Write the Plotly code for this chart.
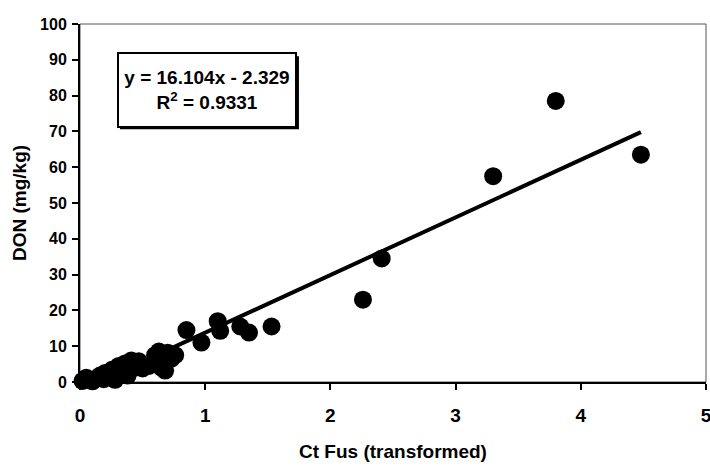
import plotly.graph_objects as go

# Ct Fus (transformed) vs DON content
ct_fus = [0.02, 0.05, 0.08, 0.10, 0.13, 0.16, 0.19, 0.20, 0.24, 0.26,
          0.28, 0.30, 0.31, 0.34, 0.36, 0.38, 0.41, 0.44, 0.47, 0.50,
          0.55, 0.60, 0.63, 0.65, 0.68, 0.70, 0.73, 0.76,
          0.85, 0.97, 1.10, 1.12, 1.28, 1.35, 1.53,
          2.26, 2.41, 3.30, 3.80, 4.48]
don = [0.3, 1.2, 0.5, 0.2, 1.0, 1.8, 0.8, 2.5, 1.5, 3.5,
       0.6, 2.2, 4.5, 3.0, 5.2, 1.8, 6.0, 4.0, 5.8, 3.8,
       4.5, 7.5, 8.5, 4.0, 3.2, 8.2, 6.5, 7.5,
       14.5, 11.0, 17.0, 14.3, 15.5, 13.8, 15.5,
       23.0, 34.5, 57.5, 78.5, 63.5]

# Linear trendline coefficients
slope = 16.104
intercept = -2.329
r_squared = 0.9331

x_ticks = [0, 1, 2, 3, 4, 5]
y_ticks = [0, 10, 20, 30, 40, 50, 60, 70, 80, 90, 100]

fit_x = [min(ct_fus), max(ct_fus)]
fit_y = [slope * v + intercept for v in fit_x]

FONT = "Liberation Sans, Arial, sans-serif"

fig = go.Figure()
fig.add_trace(go.Scatter(
    x=ct_fus, y=don, mode="markers",
    marker=dict(color="black", size=18, line=dict(width=0)),
    cliponaxis=False, showlegend=False,
))
fig.add_trace(go.Scatter(
    x=fit_x, y=fit_y, mode="lines",
    line=dict(color="black", width=4),
    showlegend=False,
))

# equation box with a small drop shadow
box_x, box_y = 1.014, 81.5
fig.add_shape(type="rect", xref="x", yref="y", xsizemode="pixel", ysizemode="pixel",
              xanchor=box_x, yanchor=box_y, x0=-87, x1=92, y0=-39, y1=34,
              fillcolor="black", line=dict(width=0), layer="above")
fig.add_annotation(
    x=box_x, y=box_y, xref="x", yref="y",
    text=f"y = {slope}x - {abs(intercept)}<br>R<sup>2</sup> = {r_squared}",
    showarrow=False, align="center",
    font=dict(family=FONT, size=19, color="black", weight="bold"),
    bordercolor="black", borderwidth=2, borderpad=2,
    bgcolor="white", width=172, height=68,
)

# thin frame around the plot area
fig.add_shape(type="rect", xref="paper", yref="paper", x0=0, y0=0, x1=1, y1=1,
              line=dict(color="#555555", width=1), layer="below")

fig.update_layout(
    width=710, height=466,
    margin=dict(l=80, r=4, t=24, b=84),
    paper_bgcolor="white", plot_bgcolor="white",
    font=dict(family=FONT, color="black"),
)
fig.update_xaxes(
    range=[0, 5], tickvals=x_ticks, showgrid=False, zeroline=False,
    showline=True, linecolor="black", linewidth=2, automargin=False,
    ticks="outside", ticklen=6, tickwidth=1.5, tickcolor="black",
    ticklabeloverflow="allow", ticklabelstandoff=9,
    tickfont=dict(family=FONT, size=19, weight="bold"),
    title=dict(text="Ct Fus (transformed)", standoff=20,
               font=dict(family=FONT, size=19, weight="bold")),
)
fig.update_yaxes(
    range=[0, 100], tickvals=y_ticks, showgrid=False, zeroline=False,
    showline=True, linecolor="black", linewidth=2, automargin=False,
    ticks="outside", ticklen=6, tickwidth=1.5, tickcolor="black",
    ticklabelstandoff=2,
    tickfont=dict(family=FONT, size=16, weight="bold"),
    title=dict(text="DON (mg/kg)", standoff=8,
               font=dict(family=FONT, size=19, weight="bold")),
)

fig.write_html("out.html")
